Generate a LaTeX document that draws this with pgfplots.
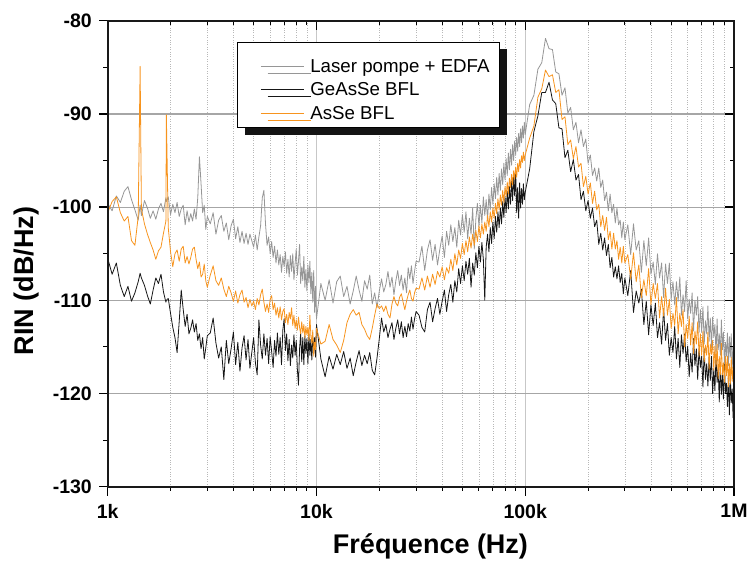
\documentclass[border=0pt]{standalone}
\usepackage{pgfplots}
\pgfplotsset{compat=1.18}
\usepackage{pgfplotstable}
\usepackage{fontspec}
\setmainfont{Liberation Sans}
\usetikzlibrary{shadows}
\definecolor{cgray}{RGB}{150,150,150}
\definecolor{corange}{RGB}{247,148,30}
\definecolor{cblack}{RGB}{22,22,22}
\pgfplotstableread{
f g k o
1000 -99.6 -105.5 -100.6
1050 -100.4 -107.2 -99.4
1100 -98.8 -106.0 -98.9
1150 -99.5 -108.4 -100.6
1200 -98.3 -109.6 -101.5
1250 -97.8 -108.5 -101.0
1300 -99.2 -110.1 -103.6
1350 -100.3 -109.2 -104.1
1400 -101.4 -108.0 -101.0
1430 -99.8 -107.1 -84.9
1450 -100.9 -107.6 -100.2
1500 -99.3 -108.4 -101.8
1550 -100.1 -109.5 -102.9
1600 -101.2 -110.4 -103.8
1650 -100.4 -108.9 -104.6
1700 -101.3 -107.6 -105.6
1750 -100.2 -108.2 -104.7
1800 -99.6 -107.2 -104.3
1850 -100.5 -109.1 -102.8
1900 -99.0 -110.2 -101.5
1910 -99.4 -110.0 -90.1
1950 -98.9 -109.8 -102.2
2000 -100.8 -111.4 -104.8
2050 -99.7 -112.9 -106.4
2100 -100.6 -114.0 -105.0
2150 -99.5 -115.6 -104.6
2200 -101.0 -112.3 -105.8
2250 -100.2 -108.9 -104.5
2300 -99.8 -111.0 -104.2
2350 -101.9 -112.8 -106.0
2400 -100.4 -111.5 -105.3
2450 -101.6 -113.6 -106.1
2500 -100.7 -113.0 -105.4
2550 -101.5 -112.1 -104.5
2600 -100.2 -113.4 -104.3
2650 -101.3 -112.5 -105.6
2700 -99.0 -114.3 -106.6
2750 -94.6 -113.6 -105.9
2800 -97.5 -115.2 -107.5
2850 -100.6 -114.0 -107.2
2900 -99.8 -116.3 -106.1
2950 -102.4 -115.1 -107.9
3000 -101.0 -113.8 -108.6
3100 -101.8 -113.5 -107.3
3200 -100.6 -111.9 -106.3
3300 -102.9 -114.6 -107.9
3400 -101.4 -116.2 -108.4
3500 -100.9 -115.0 -107.6
3600 -102.6 -118.5 -108.8
3700 -101.7 -114.3 -109.6
3800 -103.5 -116.8 -108.5
3900 -102.0 -115.2 -109.2
4000 -101.3 -113.4 -110.1
4100 -103.4 -116.9 -109.0
4200 -102.1 -114.5 -110.3
4300 -103.8 -117.6 -109.4
4400 -102.6 -115.1 -108.9
4500 -103.9 -113.8 -110.2
4600 -102.8 -116.4 -109.7
4700 -104.0 -114.2 -110.8
4800 -102.9 -117.3 -109.9
4900 -103.6 -115.6 -110.6
5000 -104.3 -114.0 -110.1
5100 -103.0 -116.7 -111.0
5200 -104.6 -118.0 -109.8
5300 -103.2 -112.1 -110.5
5400 -102.0 -114.8 -109.4
5500 -99.0 -116.3 -108.8
5600 -98.2 -113.6 -110.2
5700 -101.8 -115.9 -111.2
5800 -104.1 -114.1 -110.4
5900 -103.2 -116.8 -111.3
6000 -105.0 -113.9 -109.9
6100 -103.7 -115.5 -109.5
6200 -105.4 -117.2 -111.0
6300 -104.2 -114.3 -110.3
6400 -106.0 -116.0 -111.6
6500 -104.6 -113.5 -110.8
6600 -106.2 -115.8 -111.9
6700 -105.1 -114.0 -110.7
6800 -107.0 -116.9 -112.1
6900 -105.3 -113.2 -111.2
7000 -106.4 -112.0 -110.9
7100 -104.8 -115.4 -112.4
7200 -107.1 -113.6 -111.5
7300 -105.6 -116.5 -112.6
7400 -107.5 -114.2 -111.3
7500 -105.2 -117.0 -112.0
7600 -106.9 -114.8 -110.8
7700 -105.0 -116.2 -112.7
7800 -107.8 -113.7 -111.6
7900 -106.1 -115.9 -113.0
8000 -104.5 -114.3 -112.1
8100 -107.3 -117.4 -113.2
8200 -105.8 -119.1 -111.8
8300 -104.0 -115.2 -112.9
8400 -108.2 -113.5 -113.6
8500 -106.4 -116.6 -112.3
8600 -107.9 -114.0 -113.5
8700 -105.3 -116.9 -112.6
8800 -108.6 -113.8 -114.0
8900 -106.7 -115.7 -112.8
9000 -109.0 -114.1 -113.7
9100 -106.2 -116.8 -112.9
9200 -108.1 -113.6 -114.3
9300 -105.8 -115.9 -111.6
9400 -109.3 -114.2 -113.8
9500 -107.0 -116.4 -114.6
9600 -110.2 -113.9 -113.2
9700 -106.8 -115.6 -116.0
9800 -111.3 -114.0 -114.5
9900 -108.5 -116.1 -115.3
10000 -112.0 -112.6 -113.0
10500 -108.2 -116.3 -114.7
11000 -110.0 -118.2 -114.4
11500 -107.8 -116.0 -112.6
12000 -110.3 -117.4 -114.2
12500 -108.0 -115.8 -114.8
13000 -107.4 -116.9 -115.6
13500 -109.6 -115.5 -114.3
14000 -108.5 -117.3 -112.4
14500 -110.4 -116.2 -111.5
15000 -109.0 -118.1 -111.0
15500 -107.4 -116.6 -111.6
16000 -108.9 -115.4 -111.3
16500 -110.1 -117.0 -112.6
17000 -107.9 -115.9 -113.1
17500 -108.8 -116.8 -113.8
18000 -107.3 -115.6 -114.2
18500 -110.4 -117.5 -113.0
19000 -109.2 -118.0 -111.6
19500 -110.8 -116.2 -110.4
20000 -109.0 -114.1 -110.9
20500 -107.7 -111.9 -110.6
21000 -109.1 -113.4 -111.2
21500 -108.3 -112.6 -110.6
22000 -106.9 -114.0 -111.5
22500 -108.6 -113.1 -111.9
23000 -107.5 -112.4 -110.4
23500 -109.4 -114.2 -109.6
24000 -107.9 -113.0 -110.3
24500 -106.8 -112.1 -110.6
25000 -108.4 -113.6 -109.7
25500 -107.3 -112.3 -109.3
26000 -108.9 -114.0 -110.2
26500 -107.6 -112.8 -111.0
27000 -109.2 -113.9 -110.1
27500 -106.5 -112.5 -109.4
28000 -107.7 -113.3 -108.9
28500 -106.3 -111.8 -109.8
29000 -108.2 -113.1 -110.1
29500 -106.9 -112.0 -109.2
30000 -105.8 -111.2 -108.7
31000 -105.9 -111.6 -108.8
32000 -104.2 -112.9 -107.6
33000 -106.8 -113.4 -108.9
34000 -104.6 -111.0 -107.4
35000 -103.5 -110.2 -108.6
36000 -105.7 -112.3 -107.2
37000 -104.0 -110.9 -108.3
38000 -106.2 -109.8 -106.9
39000 -104.5 -111.5 -107.5
40000 -103.1 -110.1 -106.4
41000 -105.4 -108.9 -107.8
42000 -102.6 -111.2 -106.5
43000 -104.1 -109.4 -107.1
44000 -101.9 -108.3 -105.6
45000 -103.7 -110.2 -106.8
46000 -102.2 -107.9 -105.0
47000 -104.3 -109.1 -106.2
48000 -101.4 -106.6 -104.6
49000 -103.0 -108.2 -105.5
50000 -100.8 -106.3 -103.9
51000 -102.7 -107.9 -105.1
52000 -100.5 -105.8 -103.6
53000 -103.4 -107.2 -104.8
54000 -101.2 -105.5 -103.2
55000 -102.9 -108.6 -104.4
56000 -100.1 -106.0 -102.9
57000 -104.5 -107.3 -104.1
58000 -101.3 -104.9 -102.5
59000 -99.6 -106.5 -103.7
60000 -102.1 -104.2 -102.0
61000 -99.8 -105.9 -103.3
62000 -101.7 -103.8 -101.8
63000 -98.9 -105.6 -102.9
64000 -100.9 -110.0 -101.6
65000 -99.2 -104.3 -102.6
66000 -101.4 -102.9 -100.9
67000 -98.6 -104.8 -102.1
68000 -100.3 -102.2 -100.5
69000 -97.9 -103.9 -101.6
70000 -99.7 -101.6 -100.1
71000 -97.5 -103.4 -101.2
72000 -99.1 -101.0 -99.6
73000 -96.8 -102.7 -100.7
74000 -98.7 -100.5 -99.1
75000 -96.4 -102.2 -100.3
76000 -98.2 -100.1 -98.7
77000 -95.9 -101.8 -99.8
78000 -97.6 -99.4 -98.2
79000 -95.3 -101.1 -99.5
80000 -97.1 -98.9 -97.8
81000 -94.8 -100.6 -98.9
82000 -96.6 -98.3 -97.3
83000 -94.2 -100.2 -98.6
84000 -96.0 -97.8 -96.9
85000 -93.8 -99.7 -97.9
86000 -95.5 -97.2 -96.5
87000 -93.3 -99.3 -97.6
88000 -95.0 -96.6 -96.1
89000 -92.9 -98.8 -97.0
90000 -94.4 -96.3 -95.7
91000 -92.5 -100.6 -96.8
92000 -94.0 -97.9 -95.3
93000 -92.1 -101.2 -96.2
94000 -93.5 -97.4 -94.9
95000 -91.6 -100.1 -95.8
96000 -93.1 -98.0 -94.5
97000 -91.3 -99.7 -95.2
98000 -92.6 -97.5 -94.1
99000 -90.9 -99.2 -95.0
100000 -92.2 -98.4 -94.4
105000 -89.0 -95.9 -92.6
110000 -88.0 -91.9 -91.3
115000 -85.2 -90.2 -88.2
120000 -84.5 -87.7 -87.3
125000 -81.9 -87.7 -85.3
130000 -83.0 -86.6 -86.0
135000 -83.1 -88.5 -85.8
140000 -85.5 -88.9 -87.7
145000 -85.7 -91.5 -87.4
150000 -88.0 -91.6 -90.6
155000 -87.2 -94.7 -90.3
160000 -89.9 -93.9 -93.3
165000 -89.3 -96.2 -92.8
170000 -91.7 -94.9 -94.8
175000 -90.9 -97.1 -93.5
180000 -93.1 -96.5 -95.7
185000 -91.7 -99.2 -95.3
190000 -93.5 -98.3 -97.8
195000 -92.7 -100.4 -96.7
200000 -95.3 -99.3 -98.6
205000 -94.4 -101.2 -97.4
210000 -96.6 -100.1 -99.6
215000 -95.8 -102.1 -98.3
220000 -97.2 -101.4 -100.3
225000 -95.8 -104.0 -99.7
230000 -97.9 -102.8 -102.1
235000 -97.1 -104.6 -100.9
240000 -99.3 -103.3 -102.5
245000 -98.4 -105.2 -101.1
250000 -100.4 -104.0 -103.5
255000 -98.6 -106.5 -102.6
260000 -100.6 -105.4 -104.5
265000 -99.7 -107.5 -102.8
270000 -101.7 -106.4 -104.5
275000 -100.1 -107.7 -103.6
280000 -101.9 -106.3 -105.6
285000 -101.4 -108.1 -104.3
290000 -103.3 -107.1 -106.0
295000 -101.6 -109.3 -104.2
300000 -103.5 -107.6 -106.0
310000 -101.9 -109.5 -105.1
320000 -105.1 -106.8 -107.7
330000 -101.8 -111.3 -104.9
340000 -104.6 -109.0 -108.0
350000 -103.6 -110.3 -106.2
360000 -107.0 -108.8 -109.7
370000 -103.6 -112.6 -107.8
380000 -106.3 -110.1 -109.5
390000 -103.3 -113.7 -106.6
400000 -107.2 -110.5 -110.5
410000 -105.9 -112.7 -108.2
420000 -108.3 -110.3 -109.8
430000 -105.0 -114.0 -108.2
440000 -107.6 -112.4 -111.9
450000 -106.0 -114.7 -109.6
460000 -109.7 -110.9 -111.7
470000 -106.1 -114.3 -108.7
480000 -108.2 -112.5 -111.6
490000 -106.0 -115.9 -109.9
500000 -109.9 -114.0 -113.0
510000 -108.0 -115.6 -111.4
520000 -110.5 -112.8 -112.7
530000 -108.0 -116.3 -109.7
540000 -110.1 -114.1 -113.6
550000 -107.5 -117.2 -111.4
560000 -111.6 -113.7 -112.8
570000 -109.4 -115.7 -111.0
580000 -111.2 -113.6 -115.0
590000 -107.9 -116.6 -112.6
600000 -112.0 -114.9 -114.1
610000 -109.9 -118.2 -111.7
620000 -111.4 -115.7 -114.8
630000 -109.2 -117.7 -112.4
640000 -113.3 -114.1 -115.7
650000 -110.0 -117.0 -113.3
660000 -111.6 -115.2 -114.7
670000 -109.6 -118.5 -112.3
680000 -113.5 -115.2 -116.0
690000 -111.0 -117.2 -113.6
700000 -113.4 -116.0 -115.9
710000 -110.7 -119.3 -113.3
720000 -114.7 -115.2 -116.6
730000 -112.2 -118.5 -114.8
740000 -113.6 -116.8 -115.9
750000 -110.6 -119.2 -113.4
760000 -114.4 -116.1 -117.4
770000 -111.9 -118.6 -114.7
780000 -115.1 -116.0 -115.8
790000 -111.8 -120.0 -114.3
800000 -113.9 -117.4 -117.5
810000 -112.6 -119.7 -114.9
820000 -115.8 -116.0 -117.1
830000 -112.0 -118.8 -114.7
840000 -115.3 -117.3 -118.4
850000 -113.6 -120.9 -116.0
860000 -115.9 -117.0 -118.0
870000 -112.1 -120.1 -114.6
880000 -115.3 -118.0 -118.0
890000 -113.4 -120.6 -116.7
900000 -117.0 -116.9 -118.8
910000 -114.5 -119.9 -116.0
920000 -116.0 -118.9 -118.1
930000 -113.5 -121.4 -116.0
940000 -117.0 -118.3 -119.3
950000 -113.9 -122.3 -116.8
960000 -116.1 -118.2 -119.0
970000 -113.6 -121.0 -116.1
980000 -117.3 -119.5 -118.7
990000 -115.0 -122.6 -117.2
1000000 -117.9 -119.5 -119.8
}\rin
\newcommand{\tickfont}{\fontsize{19.5}{20}\selectfont\bfseries}
\newcommand{\labfont}{\fontsize{27}{30}\selectfont\bfseries}
\begin{document}
\begin{tikzpicture}
\useasboundingbox (-107.7pt,-73.3pt) rectangle (641.3pt,486.7pt);
\begin{axis}[
  at={(0pt,0pt)}, anchor=south west, scale only axis,
  width=626.3pt, height=466pt,
  xmode=log, xmin=1000, xmax=1000000, ymin=-130, ymax=-80,
  xtick={1000,10000,100000,1000000},
  minor xtick={2000,3000,4000,5000,6000,7000,8000,9000,20000,30000,40000,50000,60000,70000,80000,90000,200000,300000,400000,500000,600000,700000,800000,900000},
  ytick={-130,-120,-110,-100,-90,-80},
  minor ytick={-125,-115,-105,-95,-85},
  tick align=inside, major tick length=-9pt, minor tick length=-4.5pt,
  every major tick/.style={black, line width=1.3pt},
  every minor tick/.style={black, line width=1pt},
  axis line style={black!90, line width=1.7pt},
  xticklabels={1k,10k,100k,1M},
  yticklabels={-130,-120,-110,-100,-90,-80},
  xtick pos=left, ytick pos=left,
  xticklabel style={font=\tickfont, anchor=north, inner sep=0pt, yshift=-17.3pt},
  yticklabel style={font=\tickfont, anchor=east, inner sep=0pt, xshift=-15.7pt},
  xlabel={Fréquence (Hz)}, ylabel={RIN (dB/Hz)},
  xlabel style={font=\labfont, at={(axis description cs:0.5154,-0.1423)}, anchor=base},
  ylabel style={font=\labfont, at={(axis description cs:-0.1188,0.4414)}, anchor=base},
  xmajorgrids, ymajorgrids, xminorgrids,
  major x grid style={black!22, line width=1.3pt},
  major y grid style={black!35, line width=1.2pt},
  minor x grid style={black!28, line width=0.6pt, dash pattern=on 0.8pt off 1.6pt},
  legend style={at={(0.2069,0.9549)}, anchor=north west, draw=black, line width=0.9pt,
    fill=white, inner xsep=10pt, inner ysep=4pt, row sep=2.4pt, column sep=6.3pt,
    font=\fontsize{18.7}{22}\selectfont,
    nodes={inner sep=0pt, text height=16.5pt, text depth=4.4pt},
    drop shadow={shadow xshift=7pt, shadow yshift=-7pt, fill=black!92, opacity=1}},
  legend cell align=left,
]
\addplot[cgray, line width=0.8pt, line join=round,
  legend image code/.code={\path (0pt,19.95pt); \path (0pt,0pt); \draw[cgray, line width=1pt] (12.7pt,0pt) -- (55.4pt,0pt);}]
  table[x=f, y=g]{\rin};
\addlegendentry{Laser pompe + EDFA}
\addplot[cblack, line width=0.8pt, line join=round,
  legend image code/.code={\path (0pt,0pt); \draw[cblack, line width=1pt] (12.7pt,0pt) -- (55.4pt,0pt);}]
  table[x=f, y=k]{\rin};
\addlegendentry{GeAsSe BFL}
\addplot[corange, line width=0.8pt, line join=round,
  legend image code/.code={\path (0pt,0pt); \draw[corange, line width=1pt] (12.7pt,0pt) -- (55.4pt,0pt);}]
  table[x=f, y=o]{\rin};
\addlegendentry{AsSe BFL}
\end{axis}
\begin{axis}[
  at={(0pt,0pt)}, anchor=south west, scale only axis,
  width=626.3pt, height=466pt,
  xmode=log, xmin=1000, xmax=1000000, ymin=-130, ymax=-80,
  xtick={1000,10000,100000,1000000},
  minor xtick={2000,3000,4000,5000,6000,7000,8000,9000,20000,30000,40000,50000,60000,70000,80000,90000,200000,300000,400000,500000,600000,700000,800000,900000},
  ytick={-130,-120,-110,-100,-90,-80},
  minor ytick={-125,-115,-105,-95,-85},
  major tick length=9pt, minor tick length=4.5pt,
  every major tick/.style={black, line width=1.3pt},
  every minor tick/.style={black, line width=1pt},
  axis line style={black!90, line width=1.7pt},
  xticklabels={}, yticklabels={},
  tick align=inside, xtick pos=right, ytick pos=right,
]
\end{axis}
\end{tikzpicture}
\end{document}
